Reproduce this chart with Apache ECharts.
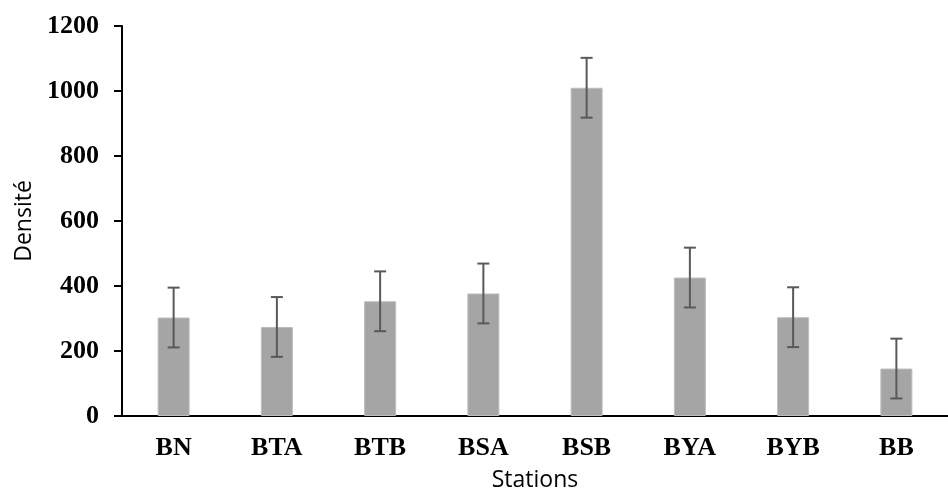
<!DOCTYPE html>
<html>
<head>
<meta charset="utf-8">
<script src="https://cdn.jsdelivr.net/npm/echarts@6/dist/echarts.min.js"></script>
<style>
html,body{margin:0;padding:0;background:#fff;}
#chart{width:948px;height:497px;}
</style>
</head>
<body>
<div id="chart"></div>
<script>
const categories = ['BN','BTA','BTB','BSA','BSB','BYA','BYB','BB'];
const densities = [303, 274, 353, 377, 1010, 426, 304, 146];
const errors = [92, 92, 92, 92, 92, 92, 92, 92];
const yTicks = [0, 200, 400, 600, 800, 1000, 1200];

const errData = categories.map((c, i) => [i, densities[i] - errors[i], densities[i] + errors[i]]);

const chart = echarts.init(document.getElementById('chart'));
chart.setOption({
  animation: false,
  grid: { left: 122, top: 26, width: 838, height: 392, containLabel: false },
  xAxis: {
    type: 'category',
    data: categories,
    name: 'Stations',
    nameLocation: 'middle',
    nameGap: 53,
    nameTextStyle: { fontFamily: 'Open Sans', fontSize: 23, color: '#000' },
    axisLine: { lineStyle: { color: '#000', width: 2 } },
    axisTick: { show: false },
    axisLabel: { margin: 19, fontFamily: 'Liberation Serif', fontWeight: 'bold', fontSize: 26, color: '#000' }
  },
  yAxis: {
    type: 'value',
    min: yTicks[0],
    max: yTicks[yTicks.length - 1],
    interval: yTicks[1] - yTicks[0],
    name: 'Densité',
    nameLocation: 'middle',
    nameGap: 86,
    nameTextStyle: { fontFamily: 'Open Sans', fontSize: 23, color: '#000' },
    axisLine: { show: true, lineStyle: { color: '#000', width: 2 } },
    axisTick: { show: true, length: 8, lineStyle: { color: '#000', width: 2 } },
    splitLine: { show: false },
    axisLabel: {
      margin: 23, fontFamily: 'Liberation Serif', fontWeight: 'bold', fontSize: 26, color: '#000',
      formatter: function (v) { return String(v); }
    }
  },
  series: [
    {
      type: 'bar',
      data: densities,
      barWidth: 32,
      itemStyle: { color: '#a5a5a5', borderColor: '#bdbdbd', borderWidth: 1 }
    },
    {
      type: 'custom',
      data: errData,
      z: 10,
      renderItem: function (params, api) {
        const x = api.value(0);
        const lo = api.coord([x, api.value(1)]);
        const hi = api.coord([x, api.value(2)]);
        const hw = 6;
        const style = { stroke: '#595959', lineWidth: 2, fill: null };
        return {
          type: 'group',
          children: [
            { type: 'line', shape: { x1: lo[0], y1: lo[1], x2: hi[0], y2: hi[1] }, style: style },
            { type: 'line', shape: { x1: lo[0] - hw, y1: lo[1], x2: lo[0] + hw, y2: lo[1] }, style: style },
            { type: 'line', shape: { x1: hi[0] - hw, y1: hi[1], x2: hi[0] + hw, y2: hi[1] }, style: style }
          ]
        };
      }
    }
  ]
});
</script>
</body>
</html>
